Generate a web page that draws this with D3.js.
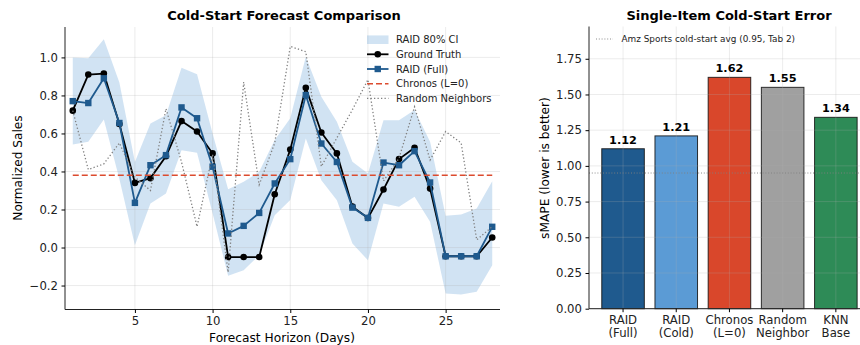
<!DOCTYPE html>
<html>
<head>
<meta charset="utf-8">
<script src="https://cdn.jsdelivr.net/npm/d3@7"></script>
<style>
  body { margin: 0; background: #fff; }
  svg { display: block; font-family: "DejaVu Sans", sans-serif; }
  .tick text { fill: #222; }
</style>
</head>
<body>
<svg id="chart" width="860" height="345"></svg>
<script>
// ---- left panel data ----
const days = [1, 2, 3, 4, 5, 6, 7, 8, 9, 10, 11, 12, 13, 14, 15, 16, 17, 18, 19, 20, 21, 22, 23, 24, 25, 26, 27, 28];
const groundTruth = [0.72, 0.91, 0.915, 0.65, 0.34, 0.365, 0.48, 0.665, 0.61, 0.495, -0.05, -0.05, -0.05, 0.28,
  0.515, 0.84, 0.605, 0.495, 0.215, 0.155, 0.305, 0.465, 0.525, 0.31, -0.046, -0.046, -0.046, 0.053];
const raidFull = [0.77, 0.76, 0.89, 0.655, 0.235, 0.433, 0.486, 0.737, 0.68, 0.425, 0.074, 0.114, 0.182, 0.337,
  0.465, 0.802, 0.547, 0.45, 0.21, 0.156, 0.447, 0.433, 0.507, 0.342, -0.046, -0.046, -0.046, 0.109];
const ciUpper = [1.0, 0.995, 1.096, 0.868, 0.45, 0.653, 0.696, 0.946, 0.911, 0.6, 0.307, 0.346, 0.398, 0.565,
  0.68, 1.003, 0.793, 0.661, 0.451, 0.389, 0.67, 0.67, 0.723, 0.556, 0.167, 0.174, 0.205, 0.349];
const ciLower = [0.542, 0.556, 0.674, 0.36, 0.012, 0.232, 0.284, 0.512, 0.498, 0.18, -0.149, -0.119, -0.04, 0.17,
  0.25, 0.574, 0.354, 0.249, 0.021, -0.067, 0.232, 0.214, 0.267, 0.135, -0.242, -0.247, -0.233, -0.093];
const randomNeighbors = [0.72, 0.41, 0.44, 0.55, 0.37, 0.30, 0.73, 0.45, 0.11, 0.49, -0.13, 0.87, 0.33, 0.55,
  1.058, 1.03, 0.426, 0.577, 0.725, 0.883, 0.35, 0.47, 0.74, 0.46, 0.61, 0.55, 0.04, 0.11];
const chronosLevel = 0.38;
const leftXTicks = [5, 10, 15, 20, 25];
const leftYTicks = [-0.2, 0, 0.2, 0.4, 0.6, 0.8, 1.0];
const leftLegend = ['RAID 80% CI', 'Ground Truth', 'RAID (Full)', 'Chronos (L=0)', 'Random Neighbors'];

// ---- right panel data ----
const methods = ['RAID\n(Full)', 'RAID\n(Cold)', 'Chronos\n(L=0)', 'Random\nNeighbor', 'KNN\nBase'];
const smape = [1.12, 1.21, 1.62, 1.55, 1.34];
const barColors = ['#1f5a8e', '#5b9bd5', '#d9472b', '#a0a0a0', '#2e8b57'];
const sportsAvg = 0.95;
const sportsLabel = 'Amz Sports cold-start avg (0.95, Tab 2)';
const rightYTicks = [0, 0.25, 0.5, 0.75, 1.0, 1.25, 1.5, 1.75];

const RAID_BLUE = '#1f5a8e';
const RED = '#dc4b2e';
const GRID = '#b0b0b0';
const TICK_FS = 11.7;
const LABEL_FS = 12.2;
const TITLE_FS = 13;

const svg = d3.select('#chart');

// ================= LEFT PANEL =================
const ScaleX = d3.scaleLinear().domain([0.5, 28.5]).range([65, 500]);
const ScaleY = d3.scaleLinear().domain([-0.326, 1.16]).range([309.5, 27]);

const left = svg.append('g');

// CI band
const band = d3.area()
  .x((d, i) => ScaleX(days[i]))
  .y0((d, i) => ScaleY(ciLower[i]))
  .y1((d, i) => ScaleY(ciUpper[i]));
left.append('path')
  .datum(days)
  .attr('fill', '#5b9bd5')
  .attr('fill-opacity', 0.28)
  .attr('d', band);

// grid
left.append('g')
  .selectAll('line')
  .data(leftYTicks)
  .join('line')
  .attr('x1', 65).attr('x2', 500)
  .attr('y1', d => ScaleY(d)).attr('y2', d => ScaleY(d))
  .attr('stroke', GRID).attr('stroke-opacity', 0.3).attr('stroke-width', 0.8);
left.append('g')
  .selectAll('line')
  .data(leftXTicks)
  .join('line')
  .attr('y1', 27).attr('y2', 309.5)
  .attr('x1', d => ScaleX(d)).attr('x2', d => ScaleX(d))
  .attr('stroke', GRID).attr('stroke-opacity', 0.3).attr('stroke-width', 0.8);

const lineOf = vals => d3.line()
  .x((d, i) => ScaleX(days[i]))
  .y((d, i) => ScaleY(vals[i]))(days);

// ground truth
left.append('path')
  .attr('d', lineOf(groundTruth))
  .attr('fill', 'none').attr('stroke', '#000').attr('stroke-width', 1.8)
  .attr('stroke-linejoin', 'round');
left.append('g')
  .selectAll('circle')
  .data(groundTruth)
  .join('circle')
  .attr('cx', (d, i) => ScaleX(days[i]))
  .attr('cy', d => ScaleY(d))
  .attr('r', 3.3)
  .attr('fill', '#000');

// RAID (Full)
left.append('path')
  .attr('d', lineOf(raidFull))
  .attr('fill', 'none').attr('stroke', RAID_BLUE).attr('stroke-width', 1.8)
  .attr('stroke-linejoin', 'round');
left.append('g')
  .selectAll('rect')
  .data(raidFull)
  .join('rect')
  .attr('x', (d, i) => ScaleX(days[i]) - 3.2)
  .attr('y', d => ScaleY(d) - 3.2)
  .attr('width', 6.4).attr('height', 6.4)
  .attr('fill', RAID_BLUE);

// Chronos flat line
left.append('line')
  .attr('x1', ScaleX(days[0])).attr('x2', ScaleX(days[days.length - 1]))
  .attr('y1', ScaleY(chronosLevel)).attr('y2', ScaleY(chronosLevel))
  .attr('stroke', RED).attr('stroke-width', 1.6)
  .attr('stroke-dasharray', '6,3');

// Random neighbors
left.append('path')
  .attr('d', lineOf(randomNeighbors))
  .attr('fill', 'none').attr('stroke', '#808080').attr('stroke-width', 1.3)
  .attr('stroke-dasharray', '1.3,2.2');

// axes
const axisY = d3.axisLeft(ScaleY).tickValues(leftYTicks).tickFormat(d3.format('.1f'))
  .tickSize(3.5).tickPadding(3.5);
const axisX = d3.axisBottom(ScaleX).tickValues(leftXTicks).tickSize(3.5).tickPadding(3.5);

left.append('g')
  .attr('transform', 'translate(65,0)')
  .call(axisY)
  .call(g => g.select('.domain').attr('d', 'M0,27V309.5').attr('stroke', '#222'))
  .call(g => g.selectAll('text').attr('font-size', TICK_FS).attr('font-family', 'DejaVu Sans'));
left.append('g')
  .attr('transform', 'translate(0,309.5)')
  .call(axisX)
  .call(g => g.select('.domain').attr('d', 'M65,0H500').attr('stroke', '#222'))
  .call(g => g.selectAll('text').attr('font-size', TICK_FS).attr('font-family', 'DejaVu Sans'));

left.append('text')
  .attr('x', 284).attr('y', 20)
  .attr('text-anchor', 'middle')
  .attr('font-weight', 'bold').attr('font-size', TITLE_FS)
  .text('Cold-Start Forecast Comparison');
left.append('text')
  .attr('x', 282).attr('y', 341.5)
  .attr('text-anchor', 'middle').attr('font-size', LABEL_FS)
  .text('Forecast Horizon (Days)');
left.append('text')
  .attr('transform', 'translate(21.5,168) rotate(-90)')
  .attr('text-anchor', 'middle').attr('font-size', LABEL_FS)
  .text('Normalized Sales');

// legend
const legend = left.append('g').attr('transform', 'translate(367,0)');
const rowY = [39.7, 54.3, 69, 83.7, 98.3];
legend.append('rect')
  .attr('x', 0).attr('y', rowY[0] - 4.3).attr('width', 21.5).attr('height', 8.6)
  .attr('fill', '#5b9bd5').attr('fill-opacity', 0.28);
legend.append('line').attr('x1', 0).attr('x2', 21.5).attr('y1', rowY[1]).attr('y2', rowY[1])
  .attr('stroke', '#000').attr('stroke-width', 1.8);
legend.append('circle').attr('cx', 10.75).attr('cy', rowY[1]).attr('r', 3.3).attr('fill', '#000');
legend.append('line').attr('x1', 0).attr('x2', 21.5).attr('y1', rowY[2]).attr('y2', rowY[2])
  .attr('stroke', RAID_BLUE).attr('stroke-width', 1.8);
legend.append('rect').attr('x', 10.75 - 3.2).attr('y', rowY[2] - 3.2).attr('width', 6.4).attr('height', 6.4)
  .attr('fill', RAID_BLUE);
legend.append('line').attr('x1', 0).attr('x2', 21.5).attr('y1', rowY[3]).attr('y2', rowY[3])
  .attr('stroke', RED).attr('stroke-width', 1.6).attr('stroke-dasharray', '6,3');
legend.append('line').attr('x1', 0).attr('x2', 21.5).attr('y1', rowY[4]).attr('y2', rowY[4])
  .attr('stroke', '#808080').attr('stroke-width', 1.3).attr('stroke-dasharray', '1.3,2.2');
legend.selectAll('text.lbl')
  .data(leftLegend)
  .join('text')
  .attr('class', 'lbl')
  .attr('x', 29).attr('y', (d, i) => rowY[i])
  .attr('dy', '0.35em')
  .attr('font-size', 10)
  .attr('fill', '#222')
  .text(d => d);

// ================= RIGHT PANEL =================
const ScaleB = d3.scaleBand().domain(methods).range([589, 869.9]).paddingInner(0.2).paddingOuter(0.24);
const ScaleV = d3.scaleLinear().domain([0, 1.976]).range([308.7, 26.5]);

const right = svg.append('g');

right.selectAll('rect.bar')
  .data(smape)
  .join('rect')
  .attr('class', 'bar')
  .attr('x', (d, i) => ScaleB(methods[i]))
  .attr('y', d => ScaleV(d))
  .attr('width', ScaleB.bandwidth())
  .attr('height', d => ScaleV(0) - ScaleV(d))
  .attr('fill', (d, i) => barColors[i])
  .attr('stroke', '#111').attr('stroke-opacity', 0.85).attr('stroke-width', 1);

// grid above bars like matplotlib
right.append('g')
  .selectAll('line')
  .data(rightYTicks)
  .join('line')
  .attr('x1', 589).attr('x2', 870)
  .attr('y1', d => ScaleV(d)).attr('y2', d => ScaleV(d))
  .attr('stroke', GRID).attr('stroke-opacity', 0.3).attr('stroke-width', 0.8);
right.append('g')
  .selectAll('line')
  .data(methods)
  .join('line')
  .attr('y1', 26.5).attr('y2', 308.7)
  .attr('x1', d => ScaleB(d) + ScaleB.bandwidth() / 2)
  .attr('x2', d => ScaleB(d) + ScaleB.bandwidth() / 2)
  .attr('stroke', GRID).attr('stroke-opacity', 0.3).attr('stroke-width', 0.8);

// reference line
right.append('line')
  .attr('x1', 589).attr('x2', 870)
  .attr('y1', ScaleV(sportsAvg)).attr('y2', ScaleV(sportsAvg))
  .attr('stroke', '#808080').attr('stroke-width', 0.9).attr('stroke-dasharray', '1,1.8');

// value labels
right.selectAll('text.val')
  .data(smape)
  .join('text')
  .attr('class', 'val')
  .attr('x', (d, i) => ScaleB(methods[i]) + ScaleB.bandwidth() / 2)
  .attr('y', d => ScaleV(d) - 5)
  .attr('text-anchor', 'middle')
  .attr('font-weight', 'bold').attr('font-size', 11.3)
  .text(d => d.toFixed(2));

const axisV = d3.axisLeft(ScaleV).tickValues(rightYTicks).tickFormat(d3.format('.2f'))
  .tickSize(3.5).tickPadding(3.5);
right.append('g')
  .attr('transform', 'translate(589,0)')
  .call(axisV)
  .call(g => g.select('.domain').attr('d', 'M0,26.5V308.7').attr('stroke', '#222'))
  .call(g => g.selectAll('text').attr('font-size', TICK_FS).attr('font-family', 'DejaVu Sans'));

const axisB = d3.axisBottom(ScaleB).tickSize(3.5).tickPadding(3.5);
right.append('g')
  .attr('transform', 'translate(0,308.7)')
  .call(axisB)
  .call(g => g.select('.domain').attr('d', 'M589,0H870').attr('stroke', '#222'))
  .call(g => g.selectAll('.tick text').each(function(d) {
    const t = d3.select(this).text('').attr('font-size', TICK_FS).attr('font-family', 'DejaVu Sans');
    d.split('\n').forEach((s, k) => {
      t.append('tspan').attr('x', 0).attr('dy', k === 0 ? '0.71em' : '1.15em').text(s);
    });
  }));

right.append('text')
  .attr('x', 729).attr('y', 20)
  .attr('text-anchor', 'middle')
  .attr('font-weight', 'bold').attr('font-size', TITLE_FS)
  .text('Single-Item Cold-Start Error');
right.append('text')
  .attr('transform', 'translate(549,168) rotate(-90)')
  .attr('text-anchor', 'middle').attr('font-size', LABEL_FS)
  .text('sMAPE (lower is better)');

// right legend
right.append('line')
  .attr('x1', 596).attr('x2', 613).attr('y1', 39).attr('y2', 39)
  .attr('stroke', '#808080').attr('stroke-width', 0.9).attr('stroke-dasharray', '1,1.8');
right.append('text')
  .attr('x', 621.5).attr('y', 39).attr('dy', '0.35em')
  .attr('font-size', 8.9).attr('fill', '#222')
  .text(sportsLabel);
</script>
</body>
</html>
